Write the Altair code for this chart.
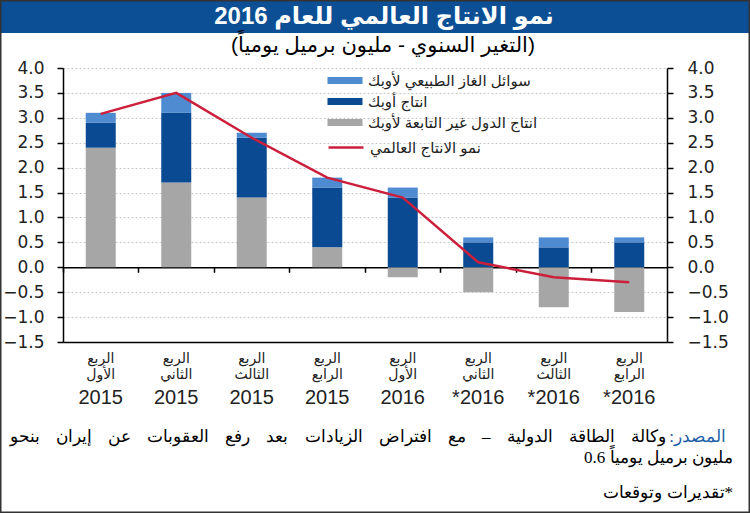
import altair as alt
import pandas as pd

# ---------------- data ----------------
quarter_word = "الربع"
quarters = ["الأول", "الثاني", "الثالث", "الرابع", "الأول", "الثاني", "الثالث", "الرابع"]
years = ["2015", "2015", "2015", "2015", "2016", "*2016", "*2016", "*2016"]
non_opec = [2.4, 1.7, 1.4, 0.4, -0.2, -0.5, -0.8, -0.9]
opec = [0.5, 1.4, 1.2, 1.2, 1.4, 0.5, 0.4, 0.5]
ngl = [0.2, 0.4, 0.1, 0.2, 0.2, 0.1, 0.2, 0.1]
world = [3.08, 3.5, 2.6, 1.8, 1.4, 0.1, -0.2, -0.3]
bar_series = ["سوائل الغاز الطبيعي لأوبك", "انتاج أوبك", "انتاج الدول غير التابعة لأوبك"]
line_series = "نمو الانتاج العالمي"
bar_colors = ["#4f8bd0", "#0a4a93", "#a6a6a6"]
line_color = "#cc1f3c"
y_ticks = [-1.5, -1.0, -0.5, 0.0, 0.5, 1.0, 1.5, 2.0, 2.5, 3.0, 3.5, 4.0]

title_text = "نمو الانتاج العالمي للعام 2016"
subtitle_text = "(التغير السنوي - مليون برميل يومياً)"
source_label = "المصدر:\u200f"
source_text = "وكالة الطاقة الدولية – مع افتراض الزيادات بعد رفع العقوبات عن إيران بنحو"
source_line2 = "مليون برميل يومياً 0.6"
note_text = "تقديرات وتوقعات*"

# ---------------- tables ----------------
cats = [f"{quarter_word}|{q}|{y}" for q, y in zip(quarters, years)]
rows = []
for i, c in enumerate(cats):
    base = max(non_opec[i], 0)
    rows.append({"cat": c, "series": bar_series[2], "y0": 0, "y1": non_opec[i], "o": 0})
    rows.append({"cat": c, "series": bar_series[1], "y0": base, "y1": base + opec[i], "o": 1})
    rows.append({"cat": c, "series": bar_series[0], "y0": base + opec[i],
                 "y1": base + opec[i] + ngl[i], "o": 2})
bar_df = pd.DataFrame(rows)
line_df = pd.DataFrame({"cat": cats, "world": world, "series": [line_series] * len(cats)})
one = pd.DataFrame({"k": [0]})

W, H = 604, 274
LEFT, TOP = 63, 68
zero_off = H * 1.5 / 5.5

FONT = "Liberation Sans, Arial, DejaVu Sans, sans-serif"
NUMFONT = "DejaVu Sans, Verdana, sans-serif"
SERIF = "Liberation Serif, Times New Roman, serif"

ysc = alt.Scale(domain=[-1.5, 4], nice=False, zero=False)
xsc = alt.Scale(paddingInner=0, paddingOuter=0)

bars = alt.Chart(bar_df).mark_bar(width=30).encode(
    x=alt.X("cat:N", sort=cats, scale=xsc,
            axis=alt.Axis(orient="bottom", offset=-zero_off, labels=False, ticks=True,
                          tickColor="black", tickSize=5, tickWidth=1.5, bandPosition=0,
                          domainColor="black", domainWidth=1.5, grid=False, title=None)),
    y=alt.Y("y0:Q", scale=ysc,
            axis=alt.Axis(orient="left", values=y_ticks, format=".1f", grid=True,
                          gridColor="#c8c8c8", gridDash=[2, 2], gridWidth=1,
                          domainColor="black", domainWidth=1.5, tickColor="black",
                          tickSize=6, tickWidth=1.5, labelFont=NUMFONT, labelFontSize=17,
                          labelColor="#222222", labelPadding=13, title=None)),
    y2="y1:Q",
    color=alt.Color("series:N",
                    scale=alt.Scale(domain=bar_series, range=bar_colors),
                    legend=alt.Legend(title=None, orient="none", legendX=274.5, legendY=5,
                                      padding=0,
                                      symbolType="M-2.5,-0.5H2.5V0.5H-2.5Z", symbolSize=196,
                                      symbolStrokeWidth=0, labelFont=FONT, labelFontSize=15,
                                      labelColor="#222222", rowPadding=5, labelOffset=15.5,
                                      labelLimit=300)),
    order="o:Q",
)

line = alt.Chart(line_df).mark_line(strokeWidth=2.5).encode(
    x=alt.X("cat:N", sort=cats, scale=xsc,
            axis=alt.Axis(orient="bottom", ticks=False, tickSize=0, domainColor="black",
                          domainWidth=1.5, grid=False, labelAngle=0, labelOverlap=False,
                          labelExpr="[split(datum.value,'|')[0], split(datum.value,'|')[1]]",
                          labelFont=FONT, labelFontSize=14, labelLineHeight=16,
                          labelColor="#222222", labelPadding=9, title=None)),
    y=alt.Y("world:Q", scale=ysc,
            axis=alt.Axis(orient="right", values=y_ticks, format=".1f", grid=False,
                          domainColor="black", domainWidth=1.5, tickColor="black",
                          tickSize=6, tickWidth=1.5, labelFont=NUMFONT, labelFontSize=17,
                          labelColor="#222222", labelPadding=14, title=None)),
    color=alt.Color("series:N",
                    scale=alt.Scale(domain=[line_series], range=[line_color]),
                    legend=alt.Legend(title=None, orient="none", legendX=264, legendY=60.5,
                                      padding=0, symbolType="stroke", symbolSize=1225,
                                      symbolStrokeWidth=2.5, labelFont=FONT,
                                      labelFontSize=15, labelColor="#222222",
                                      labelOffset=5, labelLimit=300)),
)

year_axis = alt.Chart(line_df).mark_tick(opacity=0).encode(
    x=alt.X("cat:N", sort=cats, scale=xsc,
            axis=alt.Axis(orient="bottom", ticks=False, tickSize=0, domain=False, grid=False,
                          labelAngle=0, labelOverlap=False,
                          labelExpr="split(datum.value,'|')[2]",
                          labelFont=FONT, labelFontSize=20, labelColor="#222222",
                          labelPadding=45, title=None)),
    y=alt.Y("world:Q", scale=ysc, axis=None),
)

banner = alt.Chart(one).mark_rect(color="#0c4f95").encode(
    x=alt.value(-LEFT), x2=alt.value(750 - LEFT), y=alt.value(-TOP), y2=alt.value(33 - TOP))
frame = alt.Chart(one).mark_rect(filled=False, stroke="#333333", strokeWidth=1.5).encode(
    x=alt.value(-LEFT + 0.75), x2=alt.value(750 - LEFT - 0.75),
    y=alt.value(-TOP + 0.75), y2=alt.value(513 - TOP - 0.75))
title = alt.Chart(one).mark_text(text=title_text, color="white", fontWeight="bold",
                                 fontSize=24, font=FONT, align="center",
                                 baseline="middle").encode(
    x=alt.value(384 - LEFT), y=alt.value(17 - TOP))
subtitle = alt.Chart(one).mark_text(text=subtitle_text, color="black", fontSize=21,
                                    font=FONT, align="center", baseline="middle").encode(
    x=alt.value(383 - LEFT), y=alt.value(46 - TOP))

src_words = source_text.split(" ")
src_spaced = (" \u00a0\u00a0\u2009").join(src_words)
src_blue = alt.Chart(one).mark_text(text=source_label, color="#1f5fa8", fontSize=17,
                                    font=SERIF, align="right", baseline="middle").encode(
    x=alt.value(726 - LEFT), y=alt.value(437 - TOP))
src_black = alt.Chart(one).mark_text(text=src_spaced, color="black", fontSize=17,
                                     font=SERIF, align="right", baseline="middle").encode(
    x=alt.value(726 - 60 - LEFT), y=alt.value(437 - TOP))
src2 = alt.Chart(one).mark_text(text=source_line2, color="black", fontSize=17,
                                font=SERIF, align="right", baseline="middle").encode(
    x=alt.value(733 - LEFT), y=alt.value(458 - TOP))
note = alt.Chart(one).mark_text(text=note_text, color="black", fontSize=17,
                                font=SERIF, align="right", baseline="middle").encode(
    x=alt.value(733 - LEFT), y=alt.value(493 - TOP))

chart = alt.layer(
    bars, line, year_axis, banner, frame, title, subtitle, src_blue, src_black, src2, note
).resolve_scale(x="shared", y="shared", color="independent").resolve_axis(
    x="independent", y="independent"
).properties(
    width=W, height=H,
    autosize=alt.AutoSizeParams(type="none"),
    padding={"left": LEFT, "top": TOP, "right": 750 - LEFT - W, "bottom": 513 - TOP - H},
    background="white",
).configure_view(stroke=None)

chart.save("out.html", embed_options={"renderer": "svg", "actions": False})
